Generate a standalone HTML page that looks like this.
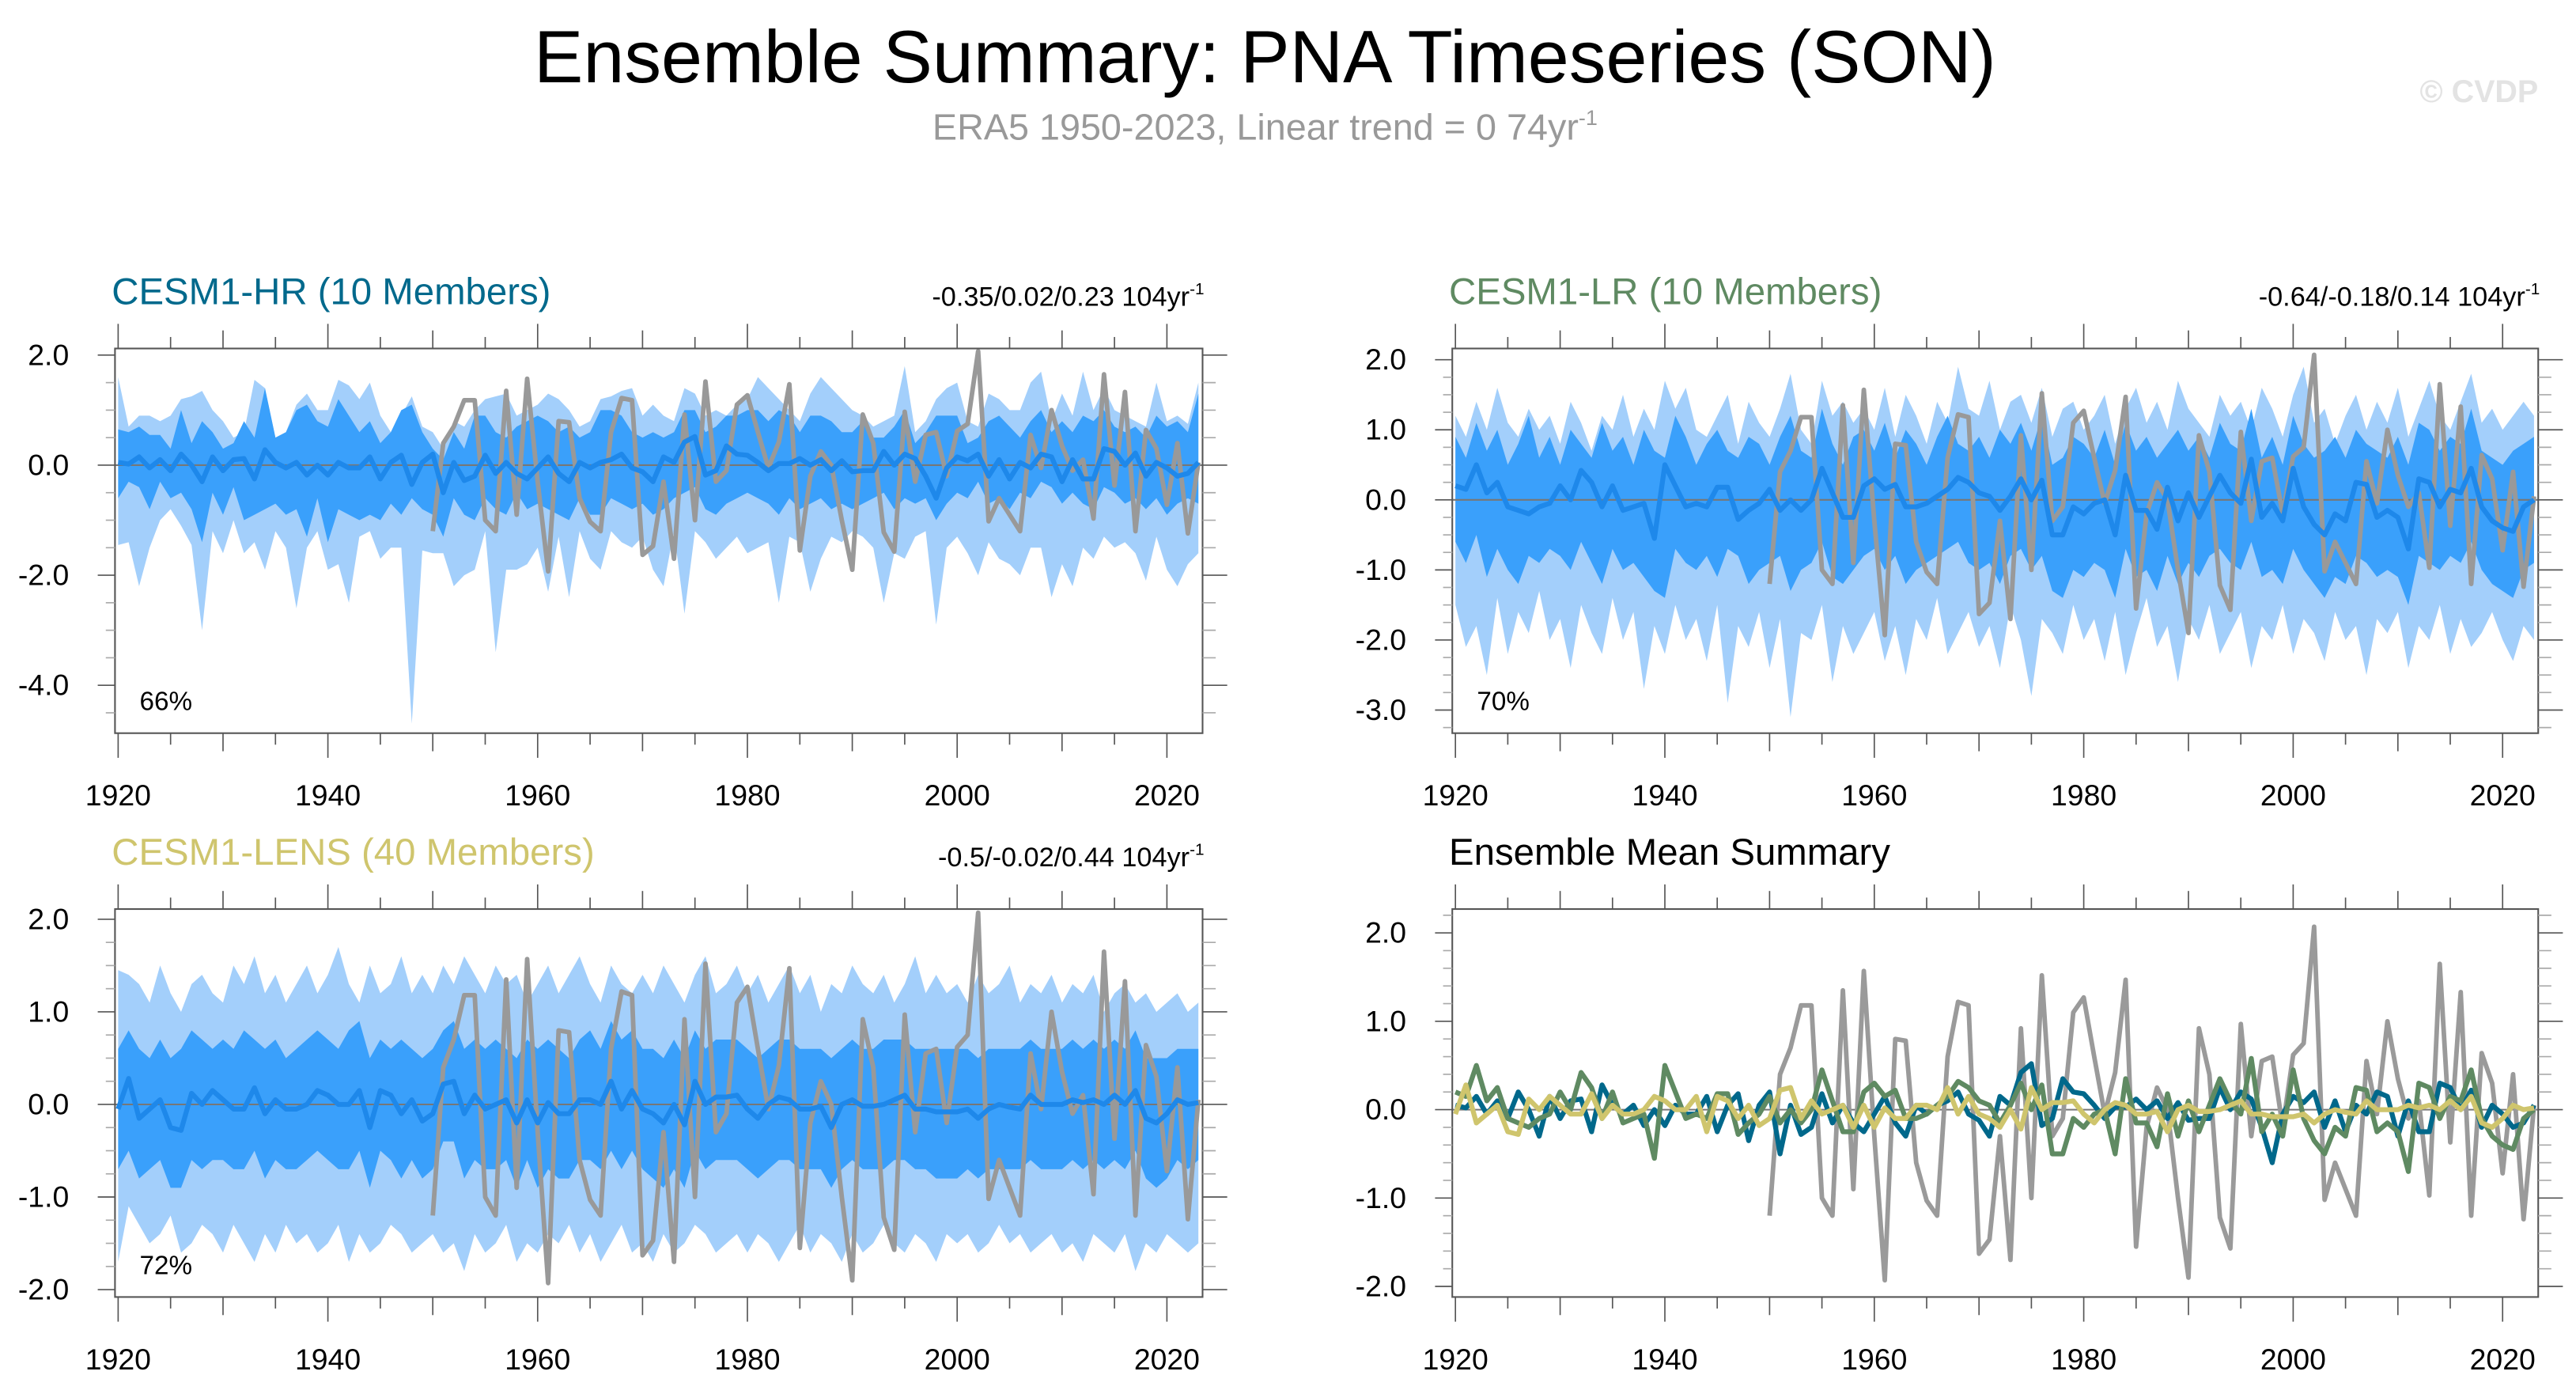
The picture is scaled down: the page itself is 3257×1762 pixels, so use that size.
<!DOCTYPE html>
<html><head><meta charset="utf-8">
<style>
html,body{margin:0;padding:0;background:#fff;}
svg{display:block;font-family:"Liberation Sans",Arial,sans-serif;}
</style></head>
<body>
<svg id="fig" width="3257" height="1762" viewBox="0 0 1568 848" preserveAspectRatio="none" xmlns="http://www.w3.org/2000/svg">
<text x="770" y="50" font-size="45" text-anchor="middle" fill="#000">Ensemble Summary: PNA Timeseries (SON)</text>
<text x="770" y="85" font-size="22.5" text-anchor="middle" fill="#999">ERA5 1950-2023, Linear trend = 0 74yr<tspan dy="-9" font-size="13">-1</tspan></text>
<text x="1545" y="62" font-size="19" font-weight="bold" text-anchor="end" fill="#e3e3e3">© CVDP</text>
</svg>
<script>
const years0 = 1920;
const obsStart = 1950;
const obs = [-1.2,0.4,0.7,1.18,1.18,-1.0,-1.2,1.35,-0.9,1.57,
-0.3,-1.93,0.8,0.78,-0.6,-1.03,-1.2,0.6,1.22,1.18,
-1.63,-1.47,-0.3,-1.7,0.92,-1.0,1.52,-0.3,-0.1,1.1,
1.27,0.6,-0.05,0.42,1.47,-1.55,-0.2,0.25,0.0,-1.0,
-1.9,0.92,0.4,-1.22,-1.57,0.97,-0.3,0.55,0.6,-0.2,
0.62,0.75,2.07,-1.02,-0.6,-0.9,-1.2,0.55,-0.05,1.0,
0.35,-0.1,0.1,-0.97,1.65,-0.37,1.33,-1.2,0.64,0.3,
-0.72,0.4,-1.24,0.05];
const hrMean = [0.05,0.02,0.15,-0.05,0.1,-0.1,0.2,0.0,-0.3,0.15,
-0.1,0.1,0.12,-0.25,0.28,0.05,-0.05,0.05,-0.18,0.0,
-0.18,0.05,-0.05,-0.05,0.15,-0.25,0.05,0.18,-0.35,0.05,
0.2,-0.5,0.05,-0.28,-0.2,0.18,-0.15,0.05,-0.15,-0.25,
-0.05,0.15,-0.15,-0.3,0.05,-0.05,0.05,0.1,0.2,-0.05,
-0.12,-0.3,0.15,0.05,0.42,0.52,-0.18,-0.1,0.35,0.2,
0.18,0.05,-0.1,0.03,0.03,0.12,0.0,0.1,-0.1,0.08,
-0.12,-0.1,-0.1,0.25,0.0,0.2,0.12,-0.2,-0.6,-0.05,
0.15,0.08,0.2,-0.2,0.1,-0.25,0.05,-0.05,0.2,0.15,
-0.3,0.1,-0.25,-0.25,0.3,0.25,0.0,0.22,-0.2,0.05,
-0.05,-0.2,-0.15,0.05];
const lrMean = [0.2,0.15,0.5,0.1,0.25,-0.1,-0.15,-0.2,-0.1,-0.05,
0.2,0.0,0.42,0.25,-0.1,0.2,-0.15,-0.1,-0.05,-0.55,
0.5,0.2,-0.1,-0.05,-0.1,0.18,0.18,-0.28,-0.15,-0.05,
0.15,-0.15,0.0,-0.15,0.0,0.45,0.1,-0.25,-0.25,0.2,
0.3,0.15,0.22,-0.1,-0.1,-0.05,0.05,0.15,0.32,0.25,
0.1,0.05,-0.15,0.05,0.3,0.0,0.28,-0.5,-0.5,-0.1,
-0.2,-0.05,0.0,-0.5,0.35,-0.15,-0.15,-0.42,0.18,-0.3,
0.1,-0.25,0.05,0.35,0.1,-0.05,0.58,-0.25,-0.05,-0.3,
0.45,-0.1,-0.35,-0.5,-0.2,-0.3,0.25,0.22,-0.25,-0.15,
-0.25,-0.7,0.3,0.25,-0.1,0.15,0.1,0.45,-0.1,-0.3,
-0.4,-0.45,-0.1,0.0];
const lensMean = [-0.05,0.28,-0.15,-0.05,0.05,-0.25,-0.28,0.12,0.0,0.15,
0.05,-0.05,-0.05,0.18,-0.1,0.05,-0.05,-0.05,0.0,0.15,
0.1,0.0,0.0,0.15,-0.25,0.15,0.1,-0.1,0.05,-0.18,
-0.1,0.22,0.25,-0.1,0.1,-0.05,0.0,0.05,-0.2,0.05,
-0.2,0.02,-0.1,-0.1,0.05,0.05,0.0,0.25,-0.05,0.15,
-0.05,-0.1,-0.2,0.0,-0.22,0.25,0.0,0.08,0.08,0.1,
-0.05,-0.15,0.0,0.08,0.05,-0.05,-0.05,-0.02,-0.25,0.0,
0.05,-0.02,-0.02,0.0,0.05,0.1,-0.05,-0.05,-0.08,-0.08,
-0.08,-0.05,-0.15,-0.05,0.0,-0.03,-0.05,0.1,0.0,0.0,
0.0,0.05,0.02,0.05,0.0,0.1,0.0,0.15,-0.15,-0.2,
-0.1,0.05,0.0,0.02];
const hrOuterHi = [1.6,0.7,0.9,0.9,0.8,0.9,1.2,1.25,1.35,1.0,
0.8,0.5,0.6,1.55,1.4,0.5,0.6,1.1,1.3,1.0,
1.0,1.55,1.45,1.2,1.5,0.9,0.6,0.9,1.25,0.7,
0.6,0.3,0.8,0.7,1.0,1.2,1.25,1.3,0.9,1.0,
1.1,1.3,1.2,1.0,0.7,0.8,1.2,1.25,1.35,1.4,
0.9,1.1,0.9,0.8,1.4,1.3,0.9,1.0,0.9,1.1,
1.2,1.6,1.4,1.2,1.0,0.8,1.3,1.6,1.4,1.2,
1.0,0.9,0.7,0.8,0.9,1.8,0.6,0.8,1.2,1.4,
1.5,0.8,0.7,1.3,1.2,1.0,1.0,1.5,1.7,0.8,
1.3,0.9,1.7,1.0,1.4,1.0,0.9,0.8,0.7,1.5,
0.8,0.9,0.75,1.5];
const hrOuterLo = [-1.45,-1.4,-2.2,-1.5,-1.0,-0.8,-1.1,-1.45,-3.0,-1.2,
-1.6,-1.0,-1.6,-1.4,-1.9,-1.2,-1.5,-2.6,-1.5,-1.2,
-1.9,-1.8,-2.5,-1.3,-1.2,-1.7,-1.5,-1.5,-4.7,-1.55,
-1.6,-1.6,-2.2,-2.0,-1.9,-1.2,-3.4,-1.9,-1.9,-1.8,
-1.5,-2.3,-1.3,-2.4,-1.2,-1.7,-1.9,-1.2,-1.4,-1.5,
-1.3,-1.9,-2.2,-1.2,-2.7,-1.2,-1.4,-1.7,-1.5,-1.3,
-1.6,-1.5,-1.4,-2.5,-1.3,-1.4,-2.3,-1.7,-1.3,-1.4,
-1.2,-1.3,-1.5,-2.5,-1.6,-1.7,-1.3,-1.2,-2.9,-1.5,
-1.3,-1.6,-2.0,-1.4,-1.7,-1.8,-2.0,-1.5,-1.5,-2.4,
-1.8,-2.2,-1.5,-1.7,-1.3,-1.5,-1.4,-1.6,-2.1,-1.3,
-1.9,-2.2,-1.8,-1.6];
const hrInnerHi = [0.65,0.6,0.7,0.55,0.55,0.3,1.0,0.4,0.8,0.6,
0.3,0.4,0.8,0.5,1.4,0.5,0.6,1.0,1.1,0.8,
0.7,1.2,0.9,0.6,0.8,0.4,0.6,1.0,1.1,0.6,
0.3,0.1,0.6,0.3,0.9,0.9,0.6,0.5,0.7,0.8,
0.9,0.8,0.6,0.7,0.5,0.6,1.0,1.0,0.9,0.6,
0.5,0.6,0.5,0.6,1.0,1.0,0.6,0.7,0.9,0.9,
1.0,1.0,0.8,1.0,0.9,0.6,0.9,0.9,0.8,0.6,
0.6,0.8,0.5,0.5,0.7,1.0,0.4,0.6,0.9,0.9,
0.9,0.4,0.5,0.8,0.9,0.7,0.5,0.8,1.0,0.6,
0.8,0.6,0.9,0.8,1.0,0.7,0.6,0.7,0.5,0.9,
0.7,0.8,0.6,1.3];
const hrInnerLo = [-0.6,-0.3,-0.4,-0.8,-0.3,-0.6,-0.5,-0.8,-1.4,-0.5,
-0.9,-0.4,-1.0,-0.9,-0.8,-0.7,-0.9,-0.8,-1.3,-0.6,
-1.4,-0.8,-0.9,-1.0,-0.9,-1.0,-0.7,-0.9,-0.6,-0.8,
-0.9,-1.3,-0.6,-0.9,-1.0,-0.6,-0.8,-0.9,-0.5,-0.8,
-0.7,-0.8,-0.9,-1.0,-0.6,-0.9,-0.9,-0.6,-0.7,-0.8,
-0.7,-0.9,-0.8,-0.6,-0.5,-0.4,-0.8,-0.9,-0.7,-0.6,
-0.5,-0.6,-0.7,-0.9,-0.6,-0.8,-0.7,-0.6,-0.8,-0.7,
-0.8,-0.7,-0.6,-0.5,-0.8,-0.6,-0.7,-0.6,-1.0,-0.7,
-0.5,-0.6,-0.3,-0.7,-0.6,-0.8,-0.5,-0.6,-0.3,-0.4,
-0.7,-0.5,-0.7,-0.8,-0.4,-0.5,-0.7,-0.6,-0.8,-0.6,
-0.9,-0.7,-0.6,-0.7];
const lrOuterHi = [1.2,0.9,1.4,1.0,1.6,1.1,0.9,1.3,1.0,1.2,
0.8,1.4,1.1,0.7,1.2,1.0,1.5,0.9,1.3,1.0,
1.7,1.3,1.6,1.0,0.9,1.2,1.5,0.8,1.4,1.1,
0.9,1.3,1.8,1.0,0.8,1.7,1.2,1.4,1.1,1.3,
1.0,1.6,0.9,1.5,1.2,0.8,1.4,1.1,1.9,1.3,
1.2,1.7,1.0,1.4,1.5,1.1,1.6,0.9,1.3,1.4,
1.0,1.2,1.5,0.8,1.3,1.6,1.1,1.4,1.0,1.7,
1.3,1.1,0.9,1.5,1.2,1.4,1.0,1.6,1.3,0.9,
1.5,1.9,1.1,1.3,0.8,1.2,1.5,1.0,1.4,1.1,
1.6,0.9,1.3,1.7,1.2,1.0,1.4,1.8,1.1,1.3,
1.0,1.2,1.4,1.2];
const lrOuterLo = [-1.5,-2.1,-1.8,-2.5,-1.4,-2.2,-1.6,-1.9,-1.3,-2.0,
-1.7,-2.4,-1.5,-1.9,-2.2,-1.4,-2.0,-1.6,-2.7,-1.8,
-2.2,-1.5,-2.0,-1.7,-2.3,-1.5,-2.9,-1.8,-2.1,-1.6,
-2.4,-1.7,-3.1,-1.9,-2.0,-1.5,-2.6,-1.8,-2.2,-1.9,
-1.6,-2.3,-1.8,-2.5,-1.7,-2.0,-1.4,-2.2,-1.9,-1.6,
-2.1,-1.8,-2.4,-1.5,-2.0,-2.8,-1.7,-1.9,-2.2,-1.5,
-2.0,-1.7,-2.3,-1.6,-2.5,-1.9,-1.4,-2.1,-1.8,-2.6,
-1.7,-2.0,-1.5,-2.2,-1.9,-1.6,-2.4,-1.8,-2.0,-1.5,
-2.2,-1.7,-1.9,-2.3,-1.6,-2.0,-1.8,-2.5,-1.7,-1.9,
-1.6,-2.4,-1.8,-2.0,-1.5,-2.2,-1.7,-2.1,-1.9,-1.6,
-2.0,-2.3,-1.8,-2.0];
const lrInnerHi = [0.9,0.6,1.1,0.7,1.0,0.5,0.8,1.2,0.6,0.9,
0.5,1.0,0.8,0.6,1.1,0.7,0.9,0.5,1.0,0.7,
0.6,1.2,0.9,0.5,0.8,1.0,0.7,0.6,0.9,0.8,
0.5,0.9,1.2,0.7,0.6,1.3,0.8,0.5,0.9,1.0,
0.7,1.1,0.6,1.0,0.8,0.5,0.9,1.2,0.8,0.7,
0.9,0.6,1.0,0.8,1.1,0.7,1.2,0.5,0.6,0.9,
0.8,0.6,1.0,0.5,1.1,0.7,0.9,0.6,0.8,1.0,
0.7,0.9,0.6,1.1,0.8,0.7,1.3,0.6,0.9,0.5,
1.2,0.8,0.6,0.7,0.9,0.6,1.0,0.8,0.7,0.6,
0.9,0.5,1.1,1.0,0.7,0.9,0.8,1.3,0.7,0.6,
0.5,0.7,0.8,0.9];
const lrInnerLo = [-0.6,-0.9,-0.5,-1.1,-0.7,-1.0,-1.2,-0.8,-0.9,-0.7,
-0.8,-1.0,-0.6,-0.9,-1.2,-0.7,-1.0,-0.9,-1.1,-1.3,
-1.4,-0.7,-0.9,-1.0,-0.8,-1.1,-0.7,-0.8,-1.2,-1.0,
-0.9,-0.8,-1.3,-1.0,-0.9,-0.6,-1.1,-1.2,-1.0,-0.8,
-0.7,-1.0,-0.8,-1.2,-1.0,-0.9,-0.8,-0.7,-0.6,-0.9,
-1.0,-0.9,-1.2,-0.8,-0.7,-1.0,-0.8,-1.3,-1.4,-1.0,
-1.1,-0.9,-1.0,-1.4,-0.7,-1.1,-1.0,-1.3,-0.8,-1.2,
-0.9,-1.1,-0.8,-0.7,-0.9,-1.0,-0.6,-1.1,-1.0,-1.2,
-0.7,-1.0,-1.2,-1.4,-1.1,-1.2,-0.8,-0.9,-1.1,-1.0,
-1.1,-1.5,-0.8,-0.9,-1.0,-0.8,-0.9,-0.6,-1.0,-1.2,
-1.3,-1.4,-1.0,-0.9];
const lensOuterHi = [1.45,1.4,1.3,1.1,1.5,1.2,1.0,1.3,1.4,1.2,
1.1,1.5,1.3,1.6,1.2,1.4,1.1,1.3,1.5,1.2,
1.4,1.7,1.3,1.1,1.5,1.2,1.3,1.6,1.2,1.4,
1.2,1.5,1.3,1.6,1.4,1.2,1.5,1.3,1.4,1.1,
1.3,1.5,1.2,1.4,1.6,1.3,1.1,1.5,1.3,1.2,
1.4,1.2,1.5,1.3,1.1,1.4,1.6,1.2,1.3,1.5,
1.2,1.4,1.1,1.3,1.5,1.2,1.4,1.0,1.3,1.2,
1.5,1.3,1.2,1.4,1.1,1.3,1.6,1.2,1.4,1.2,
1.3,1.1,1.4,1.2,1.3,1.5,1.1,1.3,1.2,1.4,
1.1,1.3,1.2,1.4,1.0,1.2,1.3,1.1,1.2,1.0,
1.1,1.2,1.0,1.1];
const lensOuterLo = [-1.7,-1.1,-1.3,-1.5,-1.4,-1.2,-1.6,-1.5,-1.3,-1.4,
-1.6,-1.3,-1.5,-1.7,-1.4,-1.6,-1.3,-1.5,-1.4,-1.6,
-1.5,-1.3,-1.7,-1.4,-1.6,-1.5,-1.3,-1.4,-1.6,-1.5,
-1.4,-1.6,-1.5,-1.8,-1.4,-1.6,-1.5,-1.3,-1.7,-1.5,
-1.6,-1.4,-1.5,-1.3,-1.6,-1.4,-1.7,-1.5,-1.3,-1.6,
-1.5,-1.7,-1.4,-1.6,-1.5,-1.3,-1.4,-1.6,-1.5,-1.4,
-1.6,-1.4,-1.5,-1.7,-1.5,-1.3,-1.6,-1.4,-1.5,-1.7,
-1.4,-1.6,-1.5,-1.3,-1.5,-1.6,-1.4,-1.5,-1.7,-1.4,
-1.5,-1.4,-1.6,-1.5,-1.3,-1.5,-1.4,-1.6,-1.5,-1.4,
-1.6,-1.5,-1.7,-1.4,-1.5,-1.6,-1.4,-1.8,-1.5,-1.6,
-1.4,-1.5,-1.6,-1.5];
const lensInnerHi = [0.6,0.8,0.6,0.5,0.7,0.5,0.6,0.8,0.7,0.6,
0.7,0.6,0.8,0.7,0.6,0.7,0.5,0.6,0.7,0.8,
0.7,0.6,0.8,0.9,0.5,0.7,0.6,0.7,0.6,0.5,
0.6,0.8,0.9,0.6,0.7,0.6,0.7,0.6,0.5,0.7,
0.6,0.7,0.6,0.5,0.7,0.8,0.6,0.9,0.7,0.8,
0.6,0.6,0.5,0.7,0.5,0.8,0.6,0.7,0.7,0.7,
0.6,0.5,0.6,0.7,0.7,0.6,0.6,0.6,0.5,0.6,
0.7,0.6,0.6,0.7,0.7,0.7,0.6,0.6,0.6,0.6,
0.6,0.6,0.5,0.6,0.6,0.6,0.6,0.7,0.6,0.6,
0.6,0.7,0.6,0.7,0.6,0.7,0.6,0.8,0.5,0.5,
0.5,0.6,0.6,0.6];
const lensInnerLo = [-0.7,-0.5,-0.8,-0.7,-0.6,-0.9,-0.9,-0.6,-0.7,-0.6,
-0.6,-0.7,-0.7,-0.5,-0.8,-0.6,-0.7,-0.7,-0.6,-0.5,
-0.6,-0.7,-0.7,-0.5,-0.9,-0.5,-0.6,-0.8,-0.6,-0.8,
-0.7,-0.4,-0.4,-0.8,-0.6,-0.7,-0.7,-0.6,-0.9,-0.6,
-0.9,-0.7,-0.8,-0.8,-0.6,-0.6,-0.7,-0.5,-0.7,-0.5,
-0.7,-0.8,-0.9,-0.7,-0.9,-0.5,-0.7,-0.6,-0.6,-0.6,
-0.7,-0.8,-0.7,-0.6,-0.6,-0.7,-0.7,-0.7,-0.9,-0.7,
-0.6,-0.7,-0.7,-0.7,-0.6,-0.6,-0.7,-0.7,-0.8,-0.8,
-0.8,-0.7,-0.8,-0.7,-0.7,-0.7,-0.7,-0.6,-0.7,-0.7,
-0.7,-0.6,-0.7,-0.6,-0.7,-0.6,-0.7,-0.5,-0.8,-0.9,
-0.8,-0.6,-0.7,-0.6];
const xTickLabels = ["1920","1940","1960","1980","2000","2020"];
const p1YTicks = ["2.0","0.0","-2.0","-4.0"];
const p2YTicks = ["2.0","1.0","0.0","-1.0","-2.0","-3.0"];
const p3YTicks = ["2.0","1.0","0.0","-1.0","-2.0"];
const p4YTicks = ["2.0","1.0","0.0","-1.0","-2.0"];

const NS = "http://www.w3.org/2000/svg";
const svg = document.getElementById('fig');
function mk(tag, attrs, parent){
  const e = document.createElementNS(NS, tag);
  for (const k in attrs) e.setAttribute(k, attrs[k]);
  (parent||svg).appendChild(e);
  return e;
}

function panel(cfg){
  const g = mk('g', {});
  
  
  const X = yr => cfg.x0 + (yr - 1919.7) / (2023.4 - 1919.7) * (cfg.x1 - cfg.x0);
  const Y = v => cfg.y0 + (cfg.vmax - v) / (cfg.vmax - cfg.vmin) * (cfg.y1 - cfg.y0);
  const cid = 'clip-' + cfg.name;
  const cp = mk('clipPath', {id: cid}, g);
  mk('rect', {x: cfg.x0, y: cfg.y0, width: cfg.x1 - cfg.x0, height: cfg.y1 - cfg.y0}, cp);
  const plot = mk('g', {'clip-path': 'url(#' + cid + ')'}, g);
  function band(hi, lo, fill, nm){
    let pts = [];
    hi.forEach((v,i)=>pts.push(X(years0+i).toFixed(2)+','+Y(v).toFixed(2)));
    for (let i = lo.length-1; i >= 0; i--) pts.push(X(years0+i).toFixed(2)+','+Y(lo[i]).toFixed(2));
    const p = mk('polygon', {points: pts.join(' '), fill: fill}, plot);
    
    
  }
  function line(arr, start, color, w, nm){
    const pts = arr.map((v,i)=>X(start+i).toFixed(2)+','+Y(v).toFixed(2)).join(' ');
    const p = mk('polyline', {points: pts, fill: 'none', stroke: color, 'stroke-width': w, 'stroke-linejoin': 'round'}, plot);
    
    
  }
  if (cfg.bands){
    band(cfg.bands[0], cfg.bands[1], '#a3cffb', 'outer-range-band');
    band(cfg.bands[2], cfg.bands[3], '#3aa0fb', 'inner-range-band');
  }
  const zl = mk('line', {x1: cfg.x0, x2: cfg.x1, y1: Y(0), y2: Y(0), stroke: '#777', 'stroke-width': 1}, plot);
  
  
  cfg.lines.forEach(l => line(l.data, l.start, l.color, l.w, l.name));
  const fr = mk('rect', {x: cfg.x0, y: cfg.y0, width: cfg.x1 - cfg.x0, height: cfg.y1 - cfg.y0, fill: 'none', stroke: '#555', 'stroke-width': 1}, g);
  
  
  for (let yr = 1920; yr <= 2020; yr += 5){
    const len = (yr % 10 === 0) ? (yr % 20 === 0 ? 15 : 11) : 7;
    mk('line', {x1: X(yr), x2: X(yr), y1: cfg.y1, y2: cfg.y1 + len, stroke: '#555', 'stroke-width': 0.8}, g);
    mk('line', {x1: X(yr), x2: X(yr), y1: cfg.y0, y2: cfg.y0 - len, stroke: '#555', 'stroke-width': 0.8}, g);
  }
  xTickLabels.forEach(s => {
    const t = mk('text', {x: X(+s), y: cfg.y1 + 44, 'font-size': 18, 'text-anchor': 'middle', fill: '#000'}, g);
    t.textContent = s;
    
    
  });
  const step = cfg.minor;
  for (let v = Math.ceil(cfg.vmin/step)*step; v <= cfg.vmax + 1e-9; v += step){
    const isMaj = cfg.yt.some(s => Math.abs(+s - v) < 1e-6);
    const len = isMaj ? 15 : 8;
    mk('line', {x1: cfg.x1, x2: cfg.x1 + len, y1: Y(v), y2: Y(v), stroke: isMaj ? '#555' : '#aaa', 'stroke-width': 0.8}, g);
    mk('line', {x1: cfg.x0, x2: cfg.x0 - len * 0.7, y1: Y(v), y2: Y(v), stroke: isMaj ? '#555' : '#aaa', 'stroke-width': 0.8}, g);
  }
  cfg.yt.forEach(s => {
    const t = mk('text', {x: cfg.x0 - 28, y: Y(+s) + 6, 'font-size': 18, 'text-anchor': 'end', fill: '#000'}, g);
    t.textContent = s;
    
    
  });
  const tt = mk('text', {x: cfg.x0 - 2, y: cfg.y0 - 27, 'font-size': 22.8, fill: cfg.tcolor}, g);
  tt.textContent = cfg.title;
  
  
  if (cfg.stats){
    const st = mk('text', {x: cfg.x1 + 1, y: cfg.y0 - 26, 'font-size': 16.5, 'text-anchor': 'end', fill: '#000'}, g);
    st.textContent = cfg.stats;
    const sp = mk('tspan', {dy: -7, 'font-size': 10}, st);
    sp.textContent = '-1';
    
    
  }
  if (cfg.pct){
    const pt = mk('text', {x: cfg.x0 + 15, y: cfg.y1 - 14, 'font-size': 16, fill: '#000'}, g);
    pt.textContent = cfg.pct;
    
    
  }
}

panel({name:'panel-cesm1-hr', x0:70, x1:732, y0:212, y1:446, vmax:2.12, vmin:-4.87, minor:0.5, yt:p1YTicks,
  title:'CESM1-HR (10 Members)', tcolor:'#00698c', stats:'-0.35/0.02/0.23 104yr', pct:'66%',
  bands:[hrOuterHi, hrOuterLo, hrInnerHi, hrInnerLo],
  lines:[{data:obs,start:obsStart,color:'#999',w:2.8,name:'era5-line'},{data:hrMean,start:years0,color:'#1e88ea',w:3,name:'ensemble-mean-line'}]});
panel({name:'panel-cesm1-lr', x0:884, x1:1545, y0:212, y1:446, vmax:2.16, vmin:-3.33, minor:0.25, yt:p2YTicks,
  title:'CESM1-LR (10 Members)', tcolor:'#5f8a62', stats:'-0.64/-0.18/0.14 104yr', pct:'70%',
  bands:[lrOuterHi, lrOuterLo, lrInnerHi, lrInnerLo],
  lines:[{data:obs,start:obsStart,color:'#999',w:2.8,name:'era5-line'},{data:lrMean,start:years0,color:'#1e88ea',w:3,name:'ensemble-mean-line'}]});
panel({name:'panel-cesm1-lens', x0:70, x1:732, y0:553, y1:789, vmax:2.11, vmin:-2.08, minor:0.25, yt:p3YTicks,
  title:'CESM1-LENS (40 Members)', tcolor:'#cfc56d', stats:'-0.5/-0.02/0.44 104yr', pct:'72%',
  bands:[lensOuterHi, lensOuterLo, lensInnerHi, lensInnerLo],
  lines:[{data:obs,start:obsStart,color:'#999',w:2.8,name:'era5-line'},{data:lensMean,start:years0,color:'#1e88ea',w:3,name:'ensemble-mean-line'}]});
panel({name:'panel-ensemble-mean-summary', x0:884, x1:1545, y0:553, y1:789, vmax:2.27, vmin:-2.12, minor:0.2, yt:p4YTicks,
  title:'Ensemble Mean Summary', tcolor:'#000',
  lines:[{data:obs,start:obsStart,color:'#9a9a9a',w:2.8,name:'era5-line'},
         {data:hrMean,start:years0,color:'#00688b',w:3,name:'cesm1-hr-mean-line'},
         {data:lrMean,start:years0,color:'#5f8a62',w:3,name:'cesm1-lr-mean-line'},
         {data:lensMean,start:years0,color:'#cfc56d',w:3,name:'cesm1-lens-mean-line'}]});
</script>
</body></html>
